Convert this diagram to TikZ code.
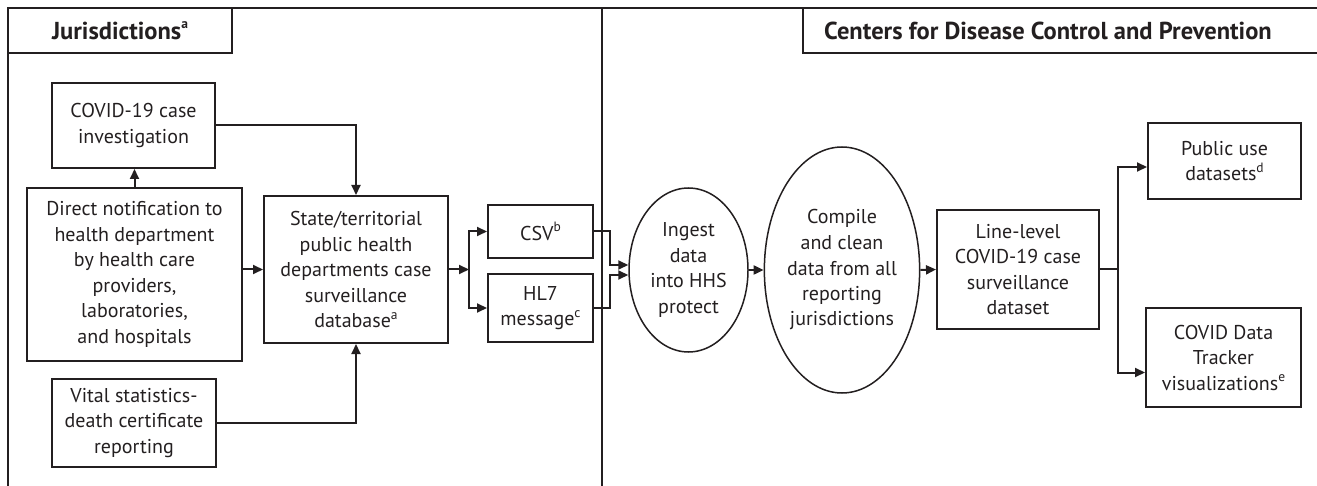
\documentclass[tikz,border=0pt]{standalone}
\usepackage{fontspec}
\setmainfont{PT Sans}
\usetikzlibrary{arrows.meta,calc,shapes.geometric}
\definecolor{ink}{RGB}{35,31,32}
% raised footnote letter for the labels
\newcommand\notemark[1]{\raisebox{0.42em}{\fontsize{13.5}{13.5}\selectfont #1}}
\begin{document}
\begin{tikzpicture}[x=1pt,y=-1pt,
  every node/.style={text=ink},
  body/.style={font=\fontsize{20}{25.5}\selectfont},
  box/.style={body, draw=ink, line width=2pt, rectangle, align=center, inner sep=0pt},
  oval/.style={body, draw=ink, line width=1.5pt, ellipse, align=center, inner sep=0pt},
  head/.style={font=\bfseries\fontsize{24.5}{28}\selectfont},
  link/.style={draw=ink, line width=2pt},
  arr/.style={link, -{Triangle[length=10pt,width=9pt]}},
  frame/.style={draw=ink, line width=2pt}
]
\useasboundingbox (0,0) rectangle (1317,486);

% outer frame and the divider between the two parties
\draw[frame] (8,486) -- (8,8) -- (1317,8);
\draw[frame] (602,8) -- (602,486);

% section headers
\node[box, head, minimum width=224pt, minimum height=45pt] (jhead) at (120,30.5) {Jurisdictions\notemark{a}};
\draw[frame] (1317,53) -- (803,53) -- (803,8);
\node[head] (chead) at (1048,31) {Centers for Disease Control and Prevention};

% jurisdiction side
\node[box, minimum width=163pt, minimum height=85pt] (inv) at (133.5,125.5) {COVID-19 case\\investigation};
\node[box, minimum width=215pt, minimum height=173pt] (direct) at (134.5,274.5) {Direct notification to\\health department\\by health care\\providers,\\laboratories,\\and hospitals};
\node[box, minimum width=164pt, minimum height=88pt] (vital) at (134,423) {Vital statistics-\\death certificate\\reporting};
\node[box, minimum width=184pt, minimum height=147pt] (state) at (356,269.5) {State/territorial\\public health\\departments case\\surveillance\\database\notemark{a}};
\node[box, minimum width=105pt, minimum height=53pt] (csv) at (540.5,231.5) {CSV\notemark{b}};
\node[box, minimum width=105pt, minimum height=68pt] (hl7) at (540.5,308) {HL7\\message\notemark{c}};

% CDC side
\node[oval, minimum width=119pt, minimum height=164pt] (ingest) at (688.5,270) {Ingest\\data\\into HHS\\protect};
\node[oval, minimum width=140pt, minimum height=246pt] (compile) at (842,270) {Compile\\and clean\\data from all\\reporting\\jurisdictions};
\node[box, minimum width=162pt, minimum height=119pt] (line) at (1018,269.5) {Line-level\\COVID-19 case\\surveillance\\dataset};
\node[box, minimum width=153pt, minimum height=76pt] (pub) at (1224.5,161) {Public use\\datasets\notemark{d}};
\node[box, minimum width=155pt, minimum height=99pt] (tracker) at (1223.5,357.5) {COVID Data\\Tracker\\visualizations\notemark{e}};

% connectors, jurisdiction side
\draw[arr] (direct.north) -- (direct.north |- inv.south);
\draw[arr] (inv.east) -| (state.north);
\draw[arr] (direct.east |- state.west) -- (state.west);
\draw[arr] (vital.east) -| (state.south);
\coordinate (fork) at (469,269.5);
\draw[arr] (state.east) -- (fork);
\draw[arr] (fork) |- (csv.west);
\draw[arr] (fork) |- (hl7.west);

% transfer to CDC
\coordinate (mergeA) at (610,265);
\coordinate (mergeB) at (610,275);
\draw[arr] (csv.east) -| (mergeA) -- (mergeA -| ingest.west);
\draw[arr] (hl7.east) -| (mergeB) -- (mergeB -| ingest.west);
\draw[arr] (ingest.east) -- (compile.west);
\draw[arr] (compile.east) -- (line.west);

% outputs
\coordinate (branch) at (1118,269.5);
\draw[link] (line.east) -- (branch);
\draw[arr] (branch) |- ([yshift=-6pt]pub.west);
\draw[arr] (branch) |- ([yshift=-15pt]tracker.west);
\end{tikzpicture}
\end{document}
